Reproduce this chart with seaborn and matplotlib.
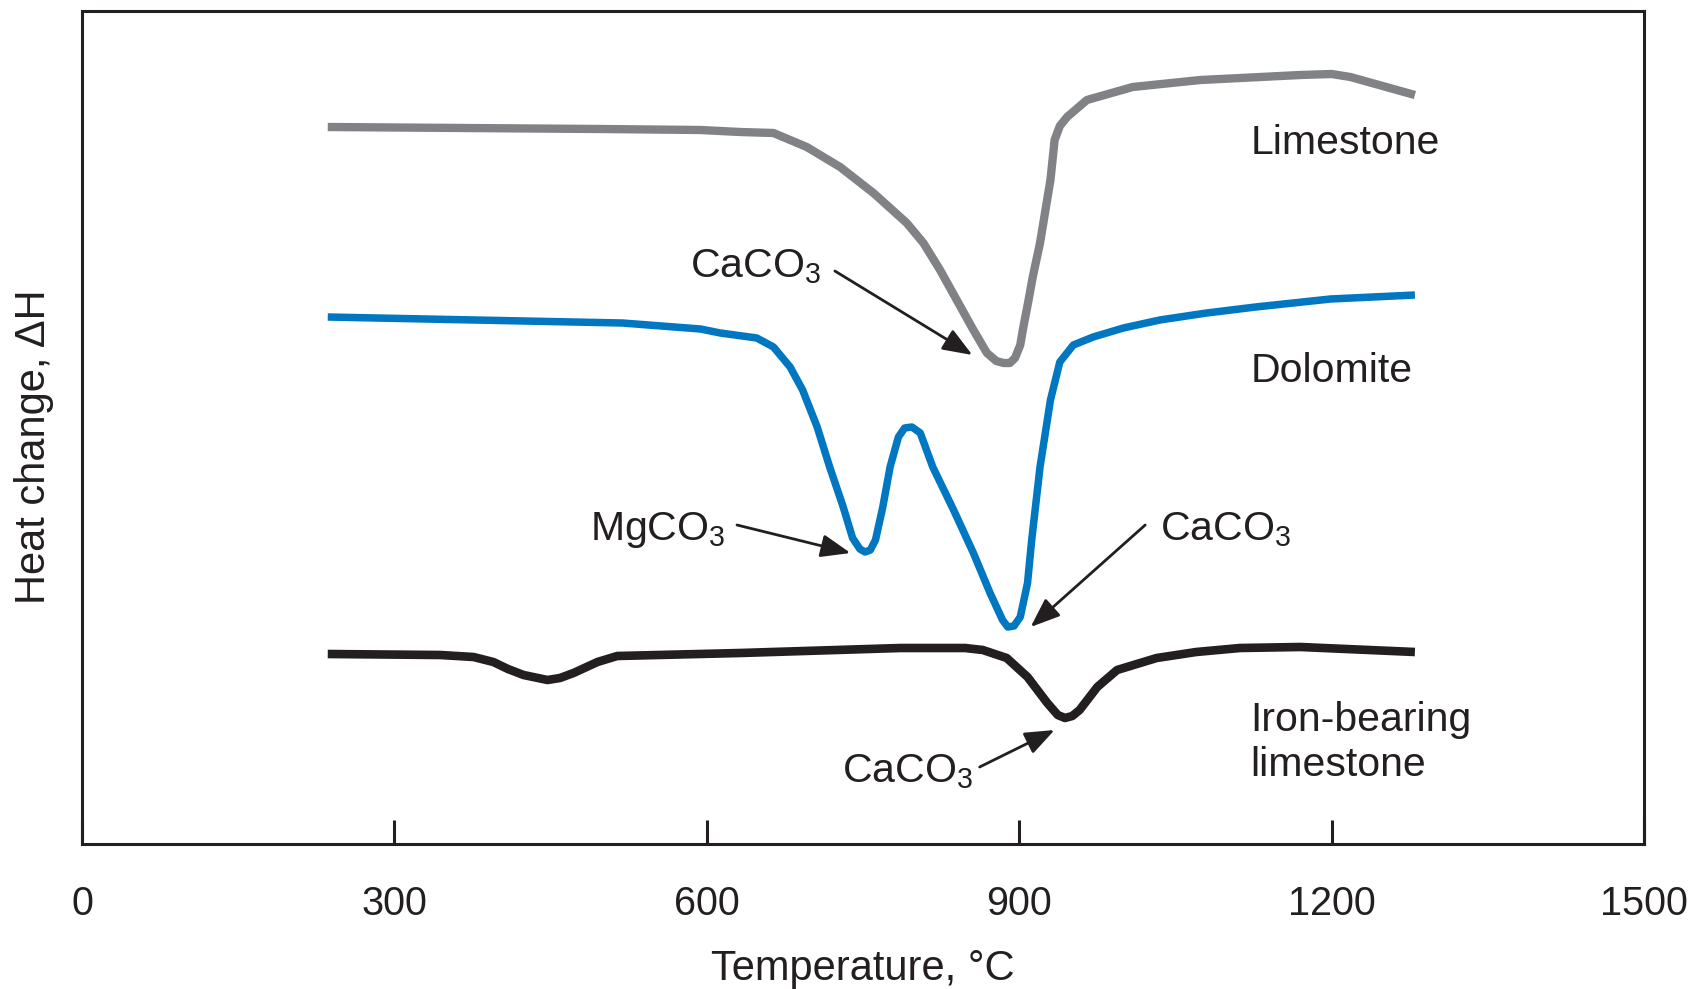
import matplotlib
matplotlib.use("Agg")
import matplotlib.pyplot as plt
import seaborn as sns
import pandas as pd

# ---- data (temperature in °C, heat change in arbitrary units) ----
lime_T = [236, 498, 594, 632, 664, 696, 728, 760, 792, 808, 824, 840, 856, 869,
          878, 885, 891, 896, 901, 904, 909, 913, 920, 926, 930, 934, 939, 946,
          965, 1009, 1074, 1170, 1200, 1218, 1280]
lime_H = [717, 715, 714, 712, 711, 697, 677, 651, 621, 601, 574, 544, 514, 491,
          483, 481, 481, 486, 499, 517, 544, 567, 601, 639, 664, 704, 718, 727,
          744, 757, 764, 769, 770, 767, 749]

dolo_T = [236, 519, 594, 613, 648, 664, 680, 692, 706, 718, 731, 740, 747, 752,
          757, 762, 769, 776, 784, 790, 797, 805, 817, 837, 856, 872, 884, 889,
          895, 901, 908, 912, 920, 930, 939, 952, 971, 1000, 1035, 1080, 1127,
          1199, 1280]
dolo_H = [527, 521, 515, 511, 506, 497, 477, 454, 417, 377, 337, 306, 295, 292,
          294, 304, 337, 377, 407, 416, 417, 411, 377, 334, 291, 251, 224, 217,
          218, 227, 261, 304, 377, 444, 482, 499, 507, 516, 524, 531, 537,
          545, 549]

iron_T = [236, 344, 376, 395, 409, 424, 447, 459, 472, 495, 514, 632, 786, 824,
          848, 865, 888, 908, 927, 937, 944, 951, 958, 975, 994, 1032, 1070,
          1112, 1170, 1280]
iron_H = [190, 189, 187, 182, 175, 169, 164, 166, 171, 182, 188, 191, 196, 196,
          196, 194, 186, 167, 141, 129, 126, 128, 134, 157, 174, 186, 192,
          196, 197, 192]

x_ticks = [0, 300, 600, 900, 1200, 1500]
series_names = ["Limestone", "Dolomite", "Iron-bearing", "limestone"]

# ---- style ----
sns.set_theme(style="white")
plt.rcParams["font.family"] = ["Liberation Sans", "DejaVu Sans"]
plt.rcParams["mathtext.default"] = "regular"
ink = "#231F20"

fig = plt.figure(figsize=(16.97, 9.89), dpi=100)
ax = fig.add_axes([82 / 1697, (989 - 844) / 989, 1562 / 1697, 833 / 989])

df_l = pd.DataFrame({"T": lime_T, "H": lime_H})
df_d = pd.DataFrame({"T": dolo_T, "H": dolo_H})
df_i = pd.DataFrame({"T": iron_T, "H": iron_H})

kw = dict(estimator=None, sort=False, ax=ax, legend=False)
sns.lineplot(data=df_l, x="T", y="H", color="#808285", lw=6.0, **kw)
sns.lineplot(data=df_d, x="T", y="H", color="#0077C0", lw=5.4, **kw)
sns.lineplot(data=df_i, x="T", y="H", color=ink, lw=6.2, **kw)
for ln in ax.lines:
    ln.set_solid_joinstyle("round")
    ln.set_solid_capstyle("butt")

ax.set_xlim(0, 1500)
ax.set_ylim(0, 833)
ax.set_xticks(x_ticks)
ax.set_xticklabels([str(t) for t in x_ticks])
ax.set_yticks([])
ax.tick_params(axis="x", direction="in", length=17, width=2.2, color=ink,
               labelsize=28.5, labelcolor=ink, pad=29.5, bottom=True)
for sp in ax.spines.values():
    sp.set_visible(True)
    sp.set_linewidth(2.2)
    sp.set_color(ink)

ax.set_xlabel("Temperature, °C", fontsize=30, color=ink)
ax.xaxis.set_label_coords(0.5, -0.1495)
ax.xaxis.label.set_va("center")
ax.set_ylabel("Heat change, ΔH", fontsize=30, color=ink)
ax.yaxis.set_label_coords(-0.031, 0.4766)
ax.yaxis.label.set_va("center")

# ---- series labels ----
fs = 29.5
ax.text(1122, 690, series_names[0], fontsize=fs, color=ink, va="baseline")
ax.text(1122, 462, series_names[1], fontsize=fs, color=ink, va="baseline")
ax.text(1122, 113, series_names[2], fontsize=fs, color=ink, va="baseline")
ax.text(1122, 68, series_names[3], fontsize=fs, color=ink, va="baseline")

# ---- annotations ----
aprops = dict(arrowstyle="-|>,head_length=0.9,head_width=0.35", color=ink,
              lw=2.0, shrinkA=0, shrinkB=0, mutation_scale=20)
ax.annotate("", xy=(855, 489), xytext=(723, 573), arrowprops=aprops)
ax.text(584, 567, "CaCO$_3$", fontsize=fs, color=ink, va="baseline")

ax.annotate("", xy=(738, 291), xytext=(629, 319), arrowprops=aprops)
ax.text(488, 304, "MgCO$_3$", fontsize=fs, color=ink, va="baseline")

ax.annotate("", xy=(911, 217), xytext=(1021, 319), arrowprops=aprops)
ax.text(1035, 304, "CaCO$_3$", fontsize=fs, color=ink, va="baseline")

ax.annotate("", xy=(934, 114), xytext=(862, 77), arrowprops=aprops)
ax.text(730, 62, "CaCO$_3$", fontsize=fs, color=ink, va="baseline")

fig.savefig("out.png", dpi=100)
